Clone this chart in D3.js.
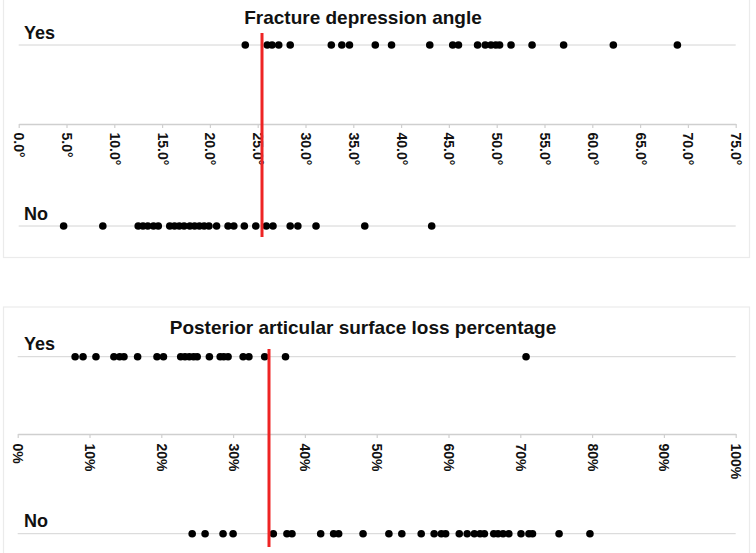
<!DOCTYPE html>
<html>
<head>
<meta charset="utf-8">
<script src="https://cdn.jsdelivr.net/npm/d3@7"></script>
<style>
  html, body { margin: 0; padding: 0; background: #fff; }
  svg { display: block; font-family: "Liberation Sans", Arial, sans-serif; }
</style>
</head>
<body>
<svg id="chart" width="756" height="553"></svg>
<script>
// ---------- data ----------
const rows = ["Yes", "No"];

const angleTitle = "Fracture depression angle";
const angleTicks = [0, 5, 10, 15, 20, 25, 30, 35, 40, 45, 50, 55, 60, 65, 70, 75];
const angleYes = [23.7, 26.0, 26.5, 27.2, 28.4, 32.7, 33.8, 34.6, 37.3, 39.0, 43.0, 45.4, 46.0,
                  48.0, 48.8, 49.4, 49.9, 50.3, 51.5, 53.7, 57.0, 62.2, 68.9];
const angleNo = [4.7, 8.8, 12.5, 13.0, 13.5, 14.1, 14.6, 15.8, 16.3, 16.8, 17.3, 17.9, 18.4,
                 18.9, 19.4, 19.9, 20.7, 21.9, 22.5, 23.6, 24.8, 25.9, 26.6, 28.4, 29.2,
                 31.1, 36.2, 43.2];
const angleCutoff = 25.45;

const lossTitle = "Posterior articular surface loss percentage";
const lossTicks = [0, 10, 20, 30, 40, 50, 60, 70, 80, 90, 100];
const lossYes = [8.0, 9.1, 10.9, 13.4, 14.2, 14.8, 16.7, 19.4, 20.3, 22.7, 23.3, 23.9, 24.5,
                 25.0, 26.7, 28.2, 28.7, 29.3, 31.4, 32.2, 34.4, 37.3, 70.8];
const lossNo = [24.3, 26.1, 28.6, 30.0, 35.6, 37.5, 38.2, 42.2, 44.0, 44.7, 48.1, 51.7, 53.5,
                56.2, 58.0, 59.0, 59.6, 61.5, 62.6, 63.6, 64.4, 65.0, 66.3, 66.9, 67.6, 68.4,
                70.1, 71.2, 71.7, 75.4, 79.7];
const lossCutoff = 35.0;

// ---------- layout ----------
const svg = d3.select("#chart");

// panel frames
svg.append("rect").attr("x", 3.5).attr("y", -1).attr("width", 746).attr("height", 258.5)
  .attr("fill", "none").attr("stroke", "#ebebeb").attr("stroke-width", 1.2);
svg.append("rect").attr("x", 3.5).attr("y", 307).attr("width", 746).attr("height", 250)
  .attr("fill", "none").attr("stroke", "#ebebeb").attr("stroke-width", 1.2);

function panel(cfg) {
  const x = d3.scaleLinear().domain([cfg.ticks[0], cfg.ticks[cfg.ticks.length - 1]])
    .range(cfg.xRange);
  const y = d3.scaleOrdinal().domain(rows).range(cfg.rowY);
  const g = svg.append("g");

  // row lines
  g.selectAll("line.row").data(rows).join("line")
    .attr("class", "row")
    .attr("x1", cfg.xRange[0]).attr("x2", cfg.xRange[1])
    .attr("y1", d => y(d)).attr("y2", d => y(d))
    .attr("stroke", "#d4d4d4").attr("stroke-width", 1);

  // row labels
  g.selectAll("text.rowlab").data(rows).join("text")
    .attr("class", "rowlab")
    .attr("x", 24).attr("y", d => y(d) - cfg.labOff)
    .attr("font-size", 18).attr("font-weight", "bold").attr("fill", "#111")
    .text(d => d);

  // axis
  const axis = d3.axisBottom(x).tickValues(cfg.ticks).tickSize(4).tickSizeOuter(0)
    .tickFormat(cfg.fmt);
  const ag = g.append("g").attr("transform", `translate(0,${cfg.axisY})`).call(axis);
  ag.select(".domain").attr("stroke", "#cfcfcf").attr("stroke-width", 1.5);
  ag.selectAll(".tick line").attr("stroke", "#cfcfcf").attr("stroke-width", 1.2);
  ag.selectAll(".tick text")
    .attr("font-family", "Liberation Sans, Arial, sans-serif")
    .attr("font-size", 14).attr("font-weight", "bold").attr("fill", "#111")
    .attr("text-anchor", "start")
    .attr("transform", `translate(0,${cfg.tickLabOff}) rotate(90)`)
    .attr("x", 0).attr("y", 0).attr("dy", "0.35em");

  // title
  g.append("text").attr("x", 363).attr("y", cfg.titleY)
    .attr("text-anchor", "middle").attr("font-size", 19).attr("font-weight", "bold")
    .attr("fill", "#111").text(cfg.title);

  const series = [{row: "Yes", vals: cfg.yes}, {row: "No", vals: cfg.no}];
  series.forEach(s => {
    g.selectAll(null).data(s.vals).join("circle")
      .attr("cx", d => x(d)).attr("cy", y(s.row)).attr("r", 3.8)
      .attr("fill", "#000");
  });

  g.append("line")
    .attr("x1", x(cfg.cutoff)).attr("x2", x(cfg.cutoff))
    .attr("y1", cfg.redY[0]).attr("y2", cfg.redY[1])
    .attr("stroke", "#ee2424").attr("stroke-width", 3);
}

panel({
  title: angleTitle, ticks: angleTicks, yes: angleYes, no: angleNo, cutoff: angleCutoff,
  fmt: d => d3.format(".1f")(d) + "°",
  xRange: [18.7, 735.7], rowY: [45, 226], axisY: 124, titleY: 24,
  labOff: 6, tickLabOff: 8.5, redY: [33, 237]
});

panel({
  title: lossTitle, ticks: lossTicks, yes: lossYes, no: lossNo, cutoff: lossCutoff,
  fmt: d => d + "%",
  xRange: [17.7, 735.7], rowY: [356.7, 533.7], axisY: 434, titleY: 334,
  labOff: 7, tickLabOff: 9.5, redY: [349, 547]
});
</script>
</body>
</html>
